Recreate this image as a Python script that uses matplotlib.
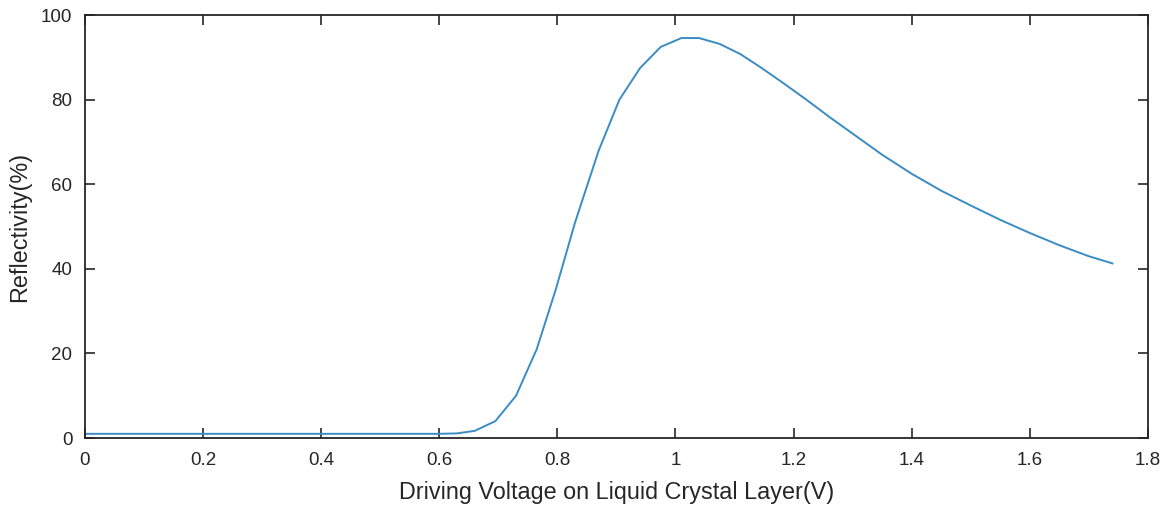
import numpy as np
import matplotlib.pyplot as plt

plt.rcParams['font.family'] = ['Liberation Sans', 'DejaVu Sans']

# driving voltage (V) and reflectivity (%)
voltage = [0.0, 0.1, 0.2, 0.3, 0.4, 0.5, 0.6, 0.63, 0.66, 0.695, 0.73,
           0.765, 0.797, 0.83, 0.87, 0.905, 0.94, 0.975, 1.01, 1.04,
           1.075, 1.11, 1.145, 1.18, 1.22, 1.26, 1.3, 1.35, 1.4, 1.45,
           1.5, 1.55, 1.6, 1.65, 1.7, 1.74]
reflect = [1.0, 1.0, 1.0, 1.0, 1.0, 1.0, 1.0, 1.1, 1.7, 4.0, 10.0,
           21.0, 35.0, 51.0, 68.0, 80.0, 87.5, 92.5, 94.6, 94.6,
           93.2, 90.8, 87.6, 84.2, 80.2, 76.0, 72.0, 67.0, 62.5, 58.5,
           55.0, 51.6, 48.5, 45.6, 43.0, 41.3]

fig = plt.figure(figsize=(11.7, 5.07), dpi=100)
ax = fig.add_axes([0.0726, 0.136, 0.9085, 0.834])
ax.plot(voltage, reflect, color='#3a8cc4', lw=1.4)

ax.set_xlim(0, 1.8)
ax.set_ylim(0, 100)
ax.set_xticks(np.arange(0, 1.81, 0.2))
ax.set_xticklabels(['0', '0.2', '0.4', '0.6', '0.8', '1', '1.2', '1.4', '1.6', '1.8'])
ax.set_yticks([0, 20, 40, 60, 80, 100])
ax.tick_params(direction='in', top=True, right=True, length=7, width=1.2,
               labelsize=13.5, colors='#262626')
ax.tick_params(axis='x', pad=10)
ax.tick_params(axis='y', pad=9)
for s in ax.spines.values():
    s.set_linewidth(1.3)
    s.set_color('#262626')

ax.set_xlabel('Driving Voltage on Liquid Crystal Layer(V)', fontsize=16.8, color='#262626', labelpad=9)
ax.set_ylabel('Reflectivity(%)', fontsize=16.8, color='#262626', labelpad=7)

fig.savefig('out.png', dpi=100)
